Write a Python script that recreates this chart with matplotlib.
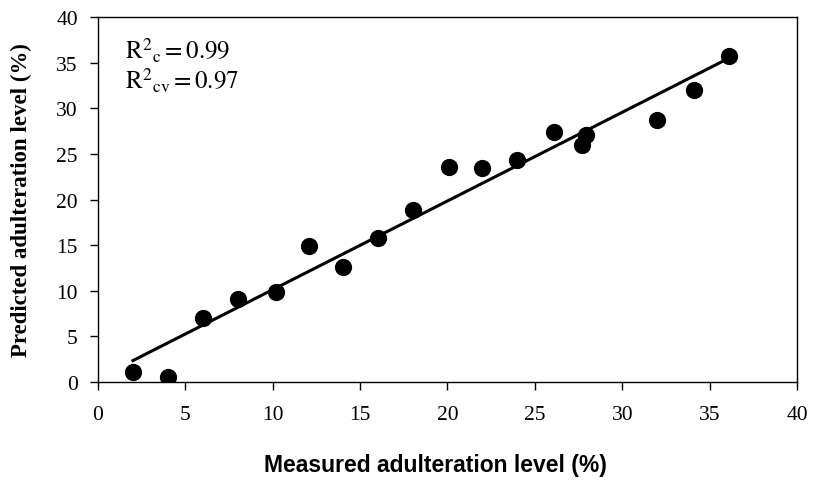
import numpy as np
import matplotlib.pyplot as plt

# Dados.
measured = [2.0, 4.0, 6.0, 8.0, 10.2, 12.1, 14.0, 16.0, 18.0, 20.1, 22.0, 24.0, 26.1, 27.7, 27.9, 32.0, 34.1, 36.1]
predicted = [1.1, 0.6, 7.0, 9.1, 9.9, 14.9, 12.6, 15.8, 18.8, 23.6, 23.4, 24.3, 27.4, 26.0, 27.1, 28.7, 32.0, 35.7]
x_ticks = [0, 5, 10, 15, 20, 25, 30, 35, 40]
y_ticks = [0, 5, 10, 15, 20, 25, 30, 35, 40]

plt.rcParams['mathtext.fontset'] = 'stix'

fig = plt.figure(figsize=(8.16, 4.81), dpi=100)
ax = fig.add_axes([0.1201, 0.2037, 0.8566, 0.7589])

ax.scatter(measured, predicted, s=130, color='black', zorder=3)

# Reta de ajuste.
coef = np.polyfit(measured, predicted, 1)
xf = np.array([min(measured), max(measured)])
ax.plot(xf, np.polyval(coef, xf), color='black', lw=2.2)

ax.set_xlim(0, 40)
ax.set_ylim(0, 40)
ax.set_xticks(x_ticks)
ax.set_yticks(y_ticks)
ax.tick_params(direction='out', length=5.5, width=1, labelsize=15.5)
ax.tick_params(axis='x', pad=11)
ax.tick_params(axis='y', pad=9)
for lab in ax.get_xticklabels() + ax.get_yticklabels():
    lab.set_family('Liberation Serif')
for s in ax.spines.values():
    s.set_linewidth(1)

ax.set_xlabel('Measured adulteration level (%)', family='Liberation Sans',
              fontweight='bold', fontsize=16.5, va='center')
ax.xaxis.set_label_coords(0.483, -0.225)
ax.set_ylabel('Predicted adulteration level (%)', family='Liberation Serif',
              fontweight='bold', fontsize=16.5, va='center')
ax.yaxis.set_label_coords(-0.109, 0.5)

ax.text(0.0386, 0.887, r'$\mathrm{R}^{2}{}_{\mathrm{c}} = 0.99$', transform=ax.transAxes,
        fontsize=18, va='baseline')
ax.text(0.0386, 0.803, r'$\mathrm{R}^{2}{}_{\mathrm{cv}} = 0.97$', transform=ax.transAxes,
        fontsize=18, va='baseline')

fig.savefig('out.png', dpi=100)
